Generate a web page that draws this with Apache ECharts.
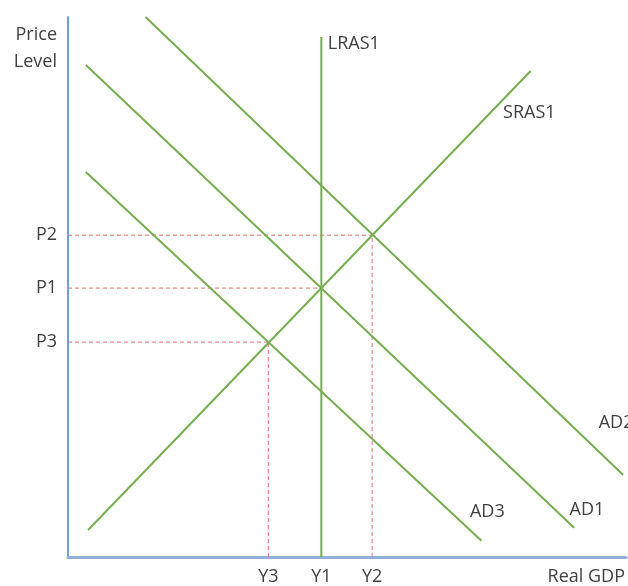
<!DOCTYPE html>
<html>
<head>
<meta charset="utf-8">
<script src="https://cdn.jsdelivr.net/npm/echarts@6/dist/echarts.min.js"></script>
<style>
  html, body { margin: 0; padding: 0; background: #fff; }
  #chart { width: 628px; height: 586px; }
</style>
</head>
<body>
<div id="chart"></div>
<script>
// ---- Data (abstract units 0..100 on both axes) ----
const priceTickLabels = ['P2', 'P1', 'P3'];
const priceTickValues = [59.6, 49.8, 39.8];
const gdpTickLabels = ['Y3', 'Y1', 'Y2'];
const gdpTickValues = [35.9, 45.4, 54.5];

const lras1 = [[45.4, 0], [45.4, 96.3]];
const sras1 = [[3.6, 5.0], [82.9, 90.0]];
const ad1 = [[3.2, 91.1], [90.7, 5.4]];
const ad2 = [[13.9, 100], [99.5, 15.2]];
const ad3 = [[3.2, 71.3], [74.1, 3.0]];

const curveNames = ['LRAS1', 'SRAS1', 'AD1', 'AD2', 'AD3'];

// ---- Build chart ----
const GREEN = '#77ad52';
const RED = '#e36f6f';
const TEXT = '#3f3f3f';
const FONT = '"Open Sans", "Liberation Sans", sans-serif';
const FS = 18;

function lookup(values, labels, v) {
  let best = 0, bd = Infinity;
  values.forEach((x, i) => { const d = Math.abs(x - v); if (d < bd) { bd = d; best = i; } });
  return bd < 0.01 ? labels[best] : '';
}

function curve(name, data, labelOffset) {
  return {
    name: name,
    type: 'line',
    data: data.map((p, i) => i === data.length - 1
      ? { value: p, label: { show: true, formatter: name, position: 'right', distance: 0, offset: labelOffset,
          color: TEXT, fontSize: FS, fontFamily: FONT } }
      : { value: p }),
    symbol: 'circle',
    symbolSize: 1,
    itemStyle: { color: 'rgba(0,0,0,0)' },
    lineStyle: { color: GREEN, width: 2 },
    silent: true,
    animation: false,
    z: 3
  };
}

function guide(points) {
  return {
    type: 'line',
    data: points,
    symbol: 'none',
    lineStyle: { color: RED, width: 1, type: [4, 3] },
    silent: true,
    animation: false,
    z: 2
  };
}

// Guide lines from the equilibria (P2,Y2), (P1,Y1), (P3,Y3)
const pOf = l => priceTickValues[priceTickLabels.indexOf(l)];
const yOf = l => gdpTickValues[gdpTickLabels.indexOf(l)];
const guides = [
  guide([[0, pOf('P2')], [yOf('Y2'), pOf('P2')]]),
  guide([[0, pOf('P1')], [yOf('Y1'), pOf('P1')]]),
  guide([[0, pOf('P3')], [yOf('Y3'), pOf('P3')]]),
  guide([[yOf('Y2'), 0], [yOf('Y2'), pOf('P2')]]),
  guide([[yOf('Y3'), 0], [yOf('Y3'), pOf('P3')]])
];

const chart = echarts.init(document.getElementById('chart'), null, { renderer: 'canvas' });
chart.setOption({
  backgroundColor: '#ffffff',
  animation: false,
  grid: { left: 68, right: 0, top: 17, bottom: 29, containLabel: false },
  xAxis: {
    type: 'value', min: 0, max: 100,
    name: 'Real GDP', nameLocation: 'end', nameGap: 0,
    nameTextStyle: { color: TEXT, fontSize: FS, fontFamily: FONT, align: 'right', verticalAlign: 'top', padding: [11, 1, 0, 0] },
    axisLine: { show: true, lineStyle: { color: '#8fb0d8', width: 3 } },
    axisTick: { show: false },
    splitLine: { show: false },
    axisLabel: {
      customValues: gdpTickValues,
      formatter: v => lookup(gdpTickValues, gdpTickLabels, v),
      color: TEXT, fontSize: FS, fontFamily: FONT, margin: 11
    }
  },
  yAxis: {
    type: 'value', min: 0, max: 100,
    name: 'Price\nLevel', nameLocation: 'end', nameGap: -4,
    nameTextStyle: { color: TEXT, fontSize: FS, fontFamily: FONT, align: 'right', verticalAlign: 'top', lineHeight: 27, padding: [0, 11, 0, 0] },
    axisLine: { show: true, lineStyle: { color: '#6e9fd6', width: 2 } },
    axisTick: { show: false },
    splitLine: { show: false },
    axisLabel: {
      customValues: priceTickValues,
      formatter: v => lookup(priceTickValues, priceTickLabels, v),
      color: TEXT, fontSize: FS, fontFamily: FONT, margin: 11,
      padding: [5, 0, 0, 0]
    }
  },
  series: [
    ...guides,
    curve(curveNames[0], lras1, [6, 7]),
    curve(curveNames[1], sras1, [-28, 42]),
    curve(curveNames[2], ad1, [-5, -18]),
    curve(curveNames[3], ad2, [-25, -52]),
    curve(curveNames[4], ad3, [-12, -29])
  ]
});
</script>
</body>
</html>
